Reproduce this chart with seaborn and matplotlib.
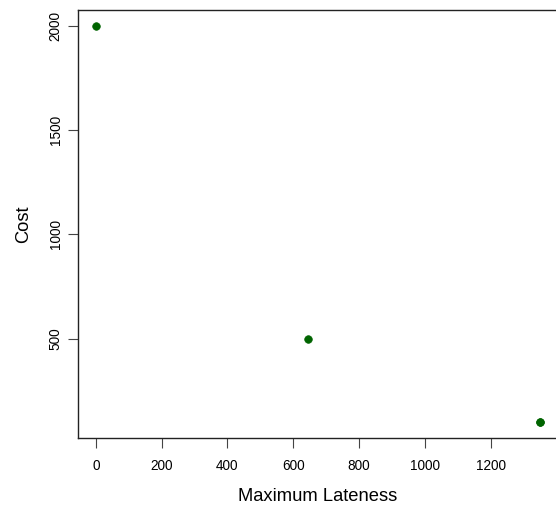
import matplotlib
matplotlib.use("Agg")
import matplotlib.pyplot as plt
import seaborn as sns
import pandas as pd

# Trade-off between schedule lateness and cost
max_lateness = [0, 645, 1350, 1350]
cost = [2000, 500, 100, 100]

x_ticks = [0, 200, 400, 600, 800, 1000, 1200]
y_ticks = [500, 1000, 1500, 2000]

df = pd.DataFrame({"Maximum Lateness": max_lateness, "Cost": cost})

sns.set_theme(style="white")
plt.rcParams["font.family"] = ["Liberation Sans", "DejaVu Sans"]
plt.rcParams["text.color"] = "black"
plt.rcParams["axes.labelcolor"] = "black"
plt.rcParams["xtick.labelcolor"] = "black"
plt.rcParams["ytick.labelcolor"] = "black"

W, H = 556, 511
fig = plt.figure(figsize=(W / 100, H / 100), dpi=100)
ax = fig.add_axes([78 / W, (H - 438) / H, (558 - 78) / W, (438 - 10) / H])

sns.scatterplot(data=df, x="Maximum Lateness", y="Cost", ax=ax,
                color="#006400", s=30, edgecolor="#006400", linewidth=0.5)

xr = max(max_lateness) - min(max_lateness)
yr = max(cost) - min(cost)
ax.set_xlim(min(max_lateness) - 0.04 * xr, max(max_lateness) + 0.04 * xr)
ax.set_ylim(min(cost) - 0.04 * yr, max(cost) + 0.04 * yr)

ax.set_xticks(x_ticks)
ax.set_yticks(y_ticks)
ax.set_yticklabels([str(v) for v in y_ticks], rotation=90, va="center")
ax.tick_params(axis="both", which="both", direction="out", length=7, width=0.8,
               color="#444444", labelcolor="black", labelsize=9.8,
               bottom=True, left=True, pad=8)
ax.tick_params(axis="y", pad=4)

for sp in ax.spines.values():
    sp.set_color("#222222")
    sp.set_linewidth(1.0)

ax.set_xlabel("Maximum Lateness", fontsize=13.2, labelpad=11, color="black")
ax.set_ylabel("Cost", fontsize=13.2, labelpad=12, color="black")

fig.savefig("out.png", dpi=100)
